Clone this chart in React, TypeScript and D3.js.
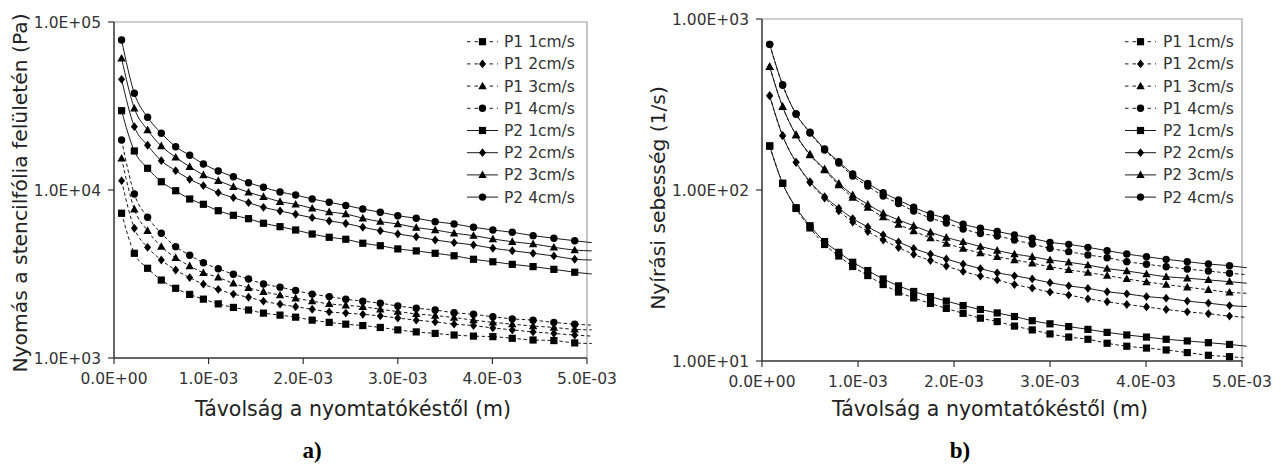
import React from 'react';
import * as d3 from 'd3';

// Distance from the printing blade, in units of 1E-03 m (last entry = line end, no marker)
const distanceE3 = [0.08, 0.215, 0.355, 0.5, 0.652, 0.8, 0.945, 1.102, 1.262, 1.422, 1.58, 1.755, 1.92, 2.095, 2.275, 2.45, 2.63, 2.815, 3.0, 3.195, 3.395, 3.595, 3.8, 4.005, 4.21, 4.43, 4.65, 4.87, 5.05];

const seriesNames = ['P1 1cm/s', 'P1 2cm/s', 'P1 3cm/s', 'P1 4cm/s', 'P2 1cm/s', 'P2 2cm/s', 'P2 3cm/s', 'P2 4cm/s'];

// a) Pressure on the stencil foil surface (Pa)
const pressureP1_1 = [7270, 4200, 3420, 2910, 2600, 2390, 2240, 2100, 2000, 1930, 1850, 1800, 1750, 1680, 1630, 1590, 1560, 1520, 1470, 1430, 1400, 1370, 1350, 1340, 1310, 1280, 1270, 1230, 1220];
const pressureP1_2 = [11360, 5920, 4560, 3830, 3340, 3010, 2750, 2560, 2400, 2300, 2180, 2090, 2020, 1950, 1880, 1850, 1820, 1780, 1730, 1680, 1640, 1590, 1560, 1510, 1470, 1430, 1400, 1370, 1350];
const pressureP1_3 = [15440, 7680, 5720, 4600, 3950, 3530, 3220, 3020, 2780, 2620, 2480, 2370, 2270, 2180, 2100, 2060, 2020, 1950, 1890, 1830, 1790, 1740, 1680, 1630, 1590, 1550, 1520, 1480, 1470];
const pressureP1_4 = [19850, 9470, 6880, 5530, 4600, 4090, 3690, 3400, 3150, 2950, 2760, 2640, 2520, 2400, 2320, 2240, 2180, 2120, 2040, 1980, 1930, 1860, 1820, 1760, 1710, 1680, 1630, 1590, 1570];
const pressureP2_1 = [29650, 17070, 13470, 11200, 9900, 8840, 8220, 7530, 7070, 6750, 6340, 6050, 5780, 5470, 5230, 5090, 4820, 4660, 4460, 4340, 4200, 4060, 3870, 3740, 3610, 3500, 3370, 3240, 3160];
const pressureP2_2 = [45600, 23820, 18460, 14940, 13030, 11580, 10610, 9640, 9000, 8400, 7890, 7500, 7170, 6840, 6540, 6320, 6000, 5720, 5470, 5270, 5040, 4860, 4710, 4500, 4350, 4200, 4050, 3870, 3830];
const pressureP2_3 = [60810, 30640, 22760, 18280, 15650, 13760, 12290, 11360, 10460, 9690, 9120, 8520, 8220, 7780, 7400, 7200, 6790, 6480, 6280, 5970, 5780, 5530, 5350, 5110, 4920, 4770, 4560, 4390, 4340];
const pressureP2_4 = [78170, 37640, 27080, 21760, 18100, 16090, 14280, 12980, 12000, 11050, 10380, 9730, 9340, 8840, 8450, 8090, 7710, 7370, 7030, 6790, 6480, 6280, 6000, 5780, 5600, 5350, 5160, 4990, 4860];

// b) Shear rate (1/s)
const shearP1_1 = [180.9, 109.4, 78.0, 60.0, 48.0, 41.1, 35.7, 31.6, 28.0, 25.3, 23.4, 21.7, 20.3, 19.0, 17.8, 17.0, 16.0, 15.2, 14.4, 13.8, 13.4, 12.7, 12.2, 11.9, 11.6, 11.2, 10.8, 10.6, 10.4];
const shearP1_2 = [356, 207.7, 145.2, 110.6, 89.8, 75.4, 65.0, 57.2, 51.0, 46.1, 42.0, 38.7, 35.9, 33.4, 31.4, 29.8, 28.0, 26.7, 25.3, 24.3, 23.1, 22.2, 21.4, 20.7, 20.0, 19.4, 18.9, 18.3, 18.0];
const shearP1_3 = [526, 307, 209.7, 160.2, 130.9, 106.9, 90.4, 79.0, 69.5, 62.9, 57.6, 52.4, 48.7, 45.5, 42.8, 40.7, 39.0, 37.3, 35.6, 34.1, 32.9, 31.6, 30.2, 29.0, 28.0, 27.0, 26.1, 25.2, 24.9];
const shearP1_4 = [711, 411, 278, 215.4, 171.4, 143.9, 120.7, 105.5, 92.2, 83.4, 75.4, 68.6, 64.1, 59.2, 55.7, 53.8, 51.0, 48.3, 45.6, 43.6, 41.7, 40.2, 38.1, 36.8, 35.6, 34.5, 33.6, 32.6, 32.0];
const shearP2_1 = [180.9, 109.4, 78.8, 61.8, 49.9, 43.2, 37.8, 33.8, 30.2, 27.5, 25.5, 23.8, 22.4, 21.1, 20.0, 19.1, 18.2, 17.2, 16.5, 15.9, 15.3, 14.7, 14.2, 13.8, 13.4, 13.1, 12.8, 12.5, 12.2];
const shearP2_2 = [356, 207.7, 145.2, 111.8, 91.4, 78.2, 68.1, 60.8, 54.6, 49.7, 45.5, 42.2, 39.5, 36.9, 34.7, 32.8, 31.5, 30.2, 28.7, 27.5, 26.6, 25.4, 24.7, 23.8, 23.3, 22.4, 21.8, 21.1, 20.8];
const shearP2_3 = [526, 307, 209.7, 161.8, 132.7, 109.4, 93.5, 82.5, 73.1, 66.8, 61.8, 56.6, 52.8, 49.7, 46.7, 44.3, 42.2, 40.7, 39.0, 37.8, 36.4, 34.7, 33.6, 32.3, 31.1, 30.5, 29.8, 29.1, 28.5];
const shearP2_4 = [711, 411, 278, 217.5, 173.7, 146.4, 124.0, 109.4, 96.4, 87.4, 79.2, 72.4, 68.3, 63.0, 59.7, 57.2, 54.6, 52.2, 49.4, 48.1, 46.2, 44.2, 42.2, 40.7, 39.3, 38.1, 36.9, 36.1, 35.1];

const xTickValues = [0, 1e-3, 2e-3, 3e-3, 4e-3, 5e-3];
const pressureTicks = [1e3, 1e4, 1e5];
const shearTicks = [1e1, 1e2, 1e3];

const xTitle = 'Távolság a nyomtatókéstől (m)';
const pressureTitle = 'Nyomás a stencilfólia felületén (Pa)';
const shearTitle = 'Nyírási sebesség (1/s)';

const markerKinds = ['square', 'diamond', 'triangle', 'circle', 'square', 'diamond', 'triangle', 'circle'];

const FONT = '"DejaVu Sans", Verdana, sans-serif';

function fmtE(v: number, digits: number) {
  const [m, e] = v.toExponential(digits).split('e');
  const n = parseInt(e, 10);
  return `${m}E${n < 0 ? '-' : '+'}${String(Math.abs(n)).padStart(2, '0')}`;
}

function Marker({ kind, x, y }: { kind: string; x: number; y: number }) {
  if (kind === 'circle') return <circle cx={x} cy={y} r={3.7} fill="#000" />;
  let d = '';
  if (kind === 'square') d = 'M-3.6,-3.6h7.2v7.2h-7.2z';
  else if (kind === 'diamond') d = 'M0,-4.4L3.5,0L0,4.4L-3.5,0Z';
  else d = 'M0,-4.4L4.2,3.2L-4.2,3.2Z';
  return <path d={d} transform={`translate(${x},${y})`} fill="#000" />;
}

type PanelProps = {
  left: number; right: number; top: number; bottom: number;
  yDomain: [number, number]; yTicks: number[]; yDigits: number;
  series: number[][];
  yTitle: string; yTitleX: number; yTitleY: number;
  xTitleX: number; label: string; labelX: number;
  legendLineX: number; legendTextX: number;
};

function Panel(p: PanelProps) {
  const x = d3.scaleLinear().domain([0, 5e-3]).range([p.left, p.right]);
  const y = d3.scaleLog().domain(p.yDomain).range([p.bottom, p.top]);
  const xs = distanceE3.map((d) => d * 1e-3);
  const line = d3
    .line<number>()
    .x((_, i) => x(xs[i]))
    .y((v) => y(v))
    .curve(d3.curveMonotoneX);

  return (
    <g>
      <path d={`M${p.left},${p.top}H${p.right}V${p.bottom}`} fill="none" stroke="#a0a0a0" strokeWidth={1.2} />

      {p.series.map((vals, si) => (
        <path
          key={'l' + si}
          d={line(vals) || ''}
          fill="none"
          stroke="#1a1a1a"
          strokeWidth={1}
          strokeDasharray={si < 4 ? '3.5,2.5' : undefined}
        />
      ))}
      {p.series.map((vals, si) =>
        vals.map((v, i) =>
          xs[i] <= 5e-3 ? <Marker key={`m${si}-${i}`} kind={markerKinds[si]} x={x(xs[i])} y={y(v)} /> : null
        )
      )}

      <line x1={p.left} x2={p.left} y1={p.top} y2={p.bottom} stroke="#333" strokeWidth={1.5} />
      <line x1={p.left} x2={p.right} y1={p.bottom} y2={p.bottom} stroke="#333" strokeWidth={1.5} />
      {p.yTicks.map((t) => (
        <g key={'yt' + t}>
          <line x1={p.left - 6} x2={p.left} y1={y(t)} y2={y(t)} stroke="#333" strokeWidth={1.2} />
          <text x={p.left - 13} y={y(t)} dy="0.36em" textAnchor="end" fontSize={15.5} fill="#333" fontFamily={FONT}>
            {fmtE(t, p.yDigits)}
          </text>
        </g>
      ))}
      {xTickValues.map((t) => (
        <g key={'xt' + t}>
          <line x1={x(t)} x2={x(t)} y1={p.bottom} y2={p.bottom + 6} stroke="#333" strokeWidth={1.2} />
          <text x={x(t)} y={p.bottom + 26} textAnchor="middle" fontSize={15.5} fill="#333" fontFamily={FONT}>
            {fmtE(t, 1)}
          </text>
        </g>
      ))}

      <text
        transform={`translate(${p.yTitleX},${p.yTitleY}) rotate(-90)`}
        textAnchor="middle"
        fontSize={20.3}
        fill="#222"
        fontFamily={FONT}
      >
        {p.yTitle}
      </text>
      <text x={p.xTitleX} y={416} textAnchor="middle" fontSize={20.5} fill="#222" fontFamily={FONT}>
        {xTitle}
      </text>
      <text x={p.labelX} y={458} textAnchor="middle" fontSize={23} fontWeight="bold" fill="#000" fontFamily='"Liberation Serif", "Times New Roman", serif'>
        {p.label}
      </text>

      {seriesNames.map((name, i) => {
        const ly = 41.7 + i * 22.2;
        const lx0 = p.legendLineX;
        const lx1 = p.legendLineX + 31;
        return (
          <g key={'lg' + i}>
            <line x1={lx0} x2={lx1} y1={ly} y2={ly} stroke="#1a1a1a" strokeWidth={1} strokeDasharray={i < 4 ? '3.5,4' : undefined} />
            <Marker kind={markerKinds[i]} x={(lx0 + lx1) / 2} y={ly} />
            <text x={p.legendTextX} y={ly} dy="0.36em" fontSize={15.5} fill="#333" fontFamily={FONT}>
              {name}
            </text>
          </g>
        );
      })}
    </g>
  );
}

export default function App() {
  const pressureSeries = [pressureP1_1, pressureP1_2, pressureP1_3, pressureP1_4, pressureP2_1, pressureP2_2, pressureP2_3, pressureP2_4];
  const shearSeries = [shearP1_1, shearP1_2, shearP1_3, shearP1_4, shearP2_1, shearP2_2, shearP2_3, shearP2_4];
  return (
    <svg width={1281} height={466} style={{ position: 'absolute', left: 0, top: 0, background: '#fff' }}>
      <rect width={1281} height={466} fill="#fff" />
      <Panel
        left={114} right={587} top={22} bottom={358}
        yDomain={[1e3, 1e5]} yTicks={pressureTicks} yDigits={1}
        series={pressureSeries}
        yTitle={pressureTitle} yTitleX={27} yTitleY={193}
        xTitleX={353} label="a)" labelX={312}
        legendLineX={467} legendTextX={504}
      />
      <Panel
        left={762} right={1242} top={19} bottom={361}
        yDomain={[1e1, 1e3]} yTicks={shearTicks} yDigits={2}
        series={shearSeries}
        yTitle={shearTitle} yTitleX={665} yTitleY={198}
        xTitleX={990} label="b)" labelX={960}
        legendLineX={1125} legendTextX={1163}
      />
    </svg>
  );
}
